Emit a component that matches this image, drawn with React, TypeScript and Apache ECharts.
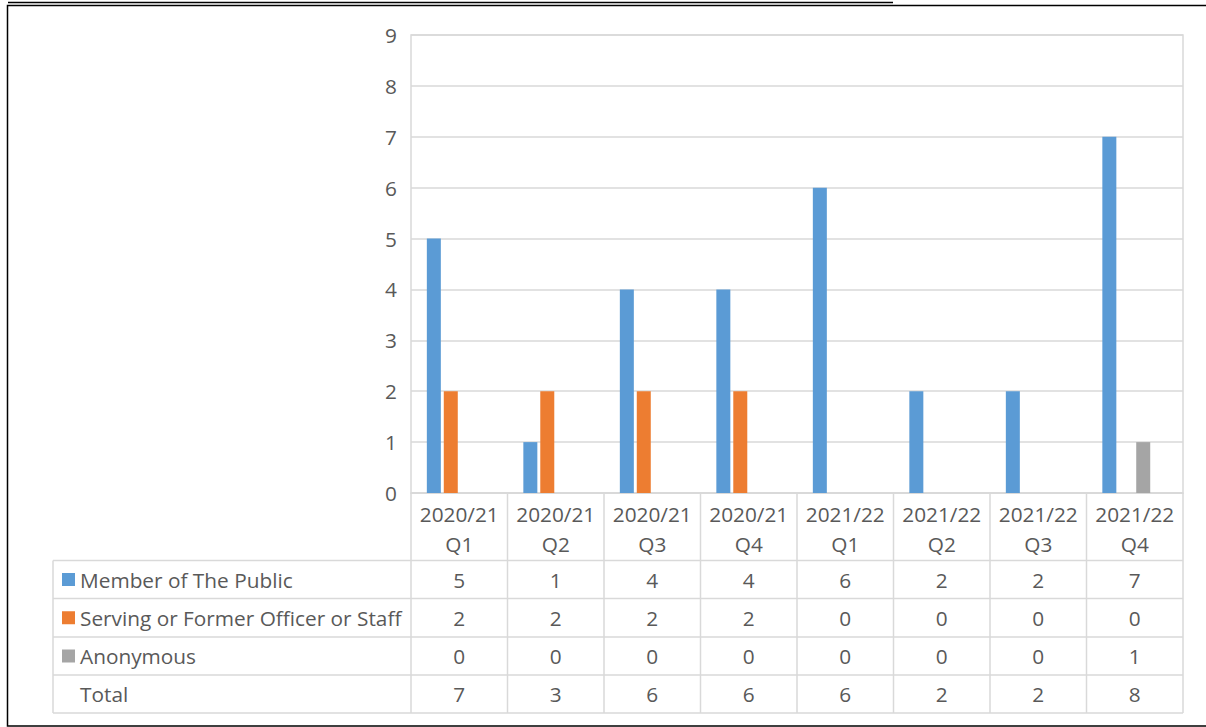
import { useEffect, useRef } from "react";
import * as echarts from "echarts";

// Quarterly complaint cases by type of complainant
const categories = [
  "2020/21\nQ1",
  "2020/21\nQ2",
  "2020/21\nQ3",
  "2020/21\nQ4",
  "2021/22\nQ1",
  "2021/22\nQ2",
  "2021/22\nQ3",
  "2021/22\nQ4",
];
const memberOfPublic = [5, 1, 4, 4, 6, 2, 2, 7];
const servingOfficerStaff = [2, 2, 2, 2, 0, 0, 0, 0];
const anonymous = [0, 0, 0, 0, 0, 0, 0, 1];
const yTicks = [0, 1, 2, 3, 4, 5, 6, 7, 8, 9];

const seriesNames = [
  "Member of The Public",
  "Serving or Former Officer or Staff",
  "Anonymous",
];
const seriesColors = ["#5b9bd5", "#ed7d31", "#a5a5a5"];

// Layout
const W = 1206;
const H = 727;
const PLOT_L = 411;
const PLOT_R = 1183;
const PLOT_T = 35;
const PLOT_B = 493;
const TABLE_L = 53;
const ROW_Y = [560.5, 598.5, 637, 675, 713];
const FONT = "'Open Sans', Calibri, 'Noto Sans', sans-serif";
const TEXT = "#595959";
const LINE = "#d9d9d9";
const FS = 20.8;

export default function App() {
  const ref = useRef<HTMLDivElement>(null);

  useEffect(() => {
    const chart = echarts.init(ref.current!, null, { renderer: "svg" });
    const totals = memberOfPublic.map(
      (v, i) => v + servingOfficerStaff[i] + anonymous[i]
    );
    const seriesData = [memberOfPublic, servingOfficerStaff, anonymous];
    const colW = (PLOT_R - PLOT_L) / categories.length;

    const graphics: any[] = [];
    const hLine = (x1: number, x2: number, y: number, color = LINE, w = 1.5) =>
      graphics.push({
        type: "line",
        silent: true,
        shape: { x1, y1: y, x2, y2: y },
        style: { stroke: color, lineWidth: w },
      });
    const vLine = (x: number, y1: number, y2: number) =>
      graphics.push({
        type: "line",
        silent: true,
        shape: { x1: x, y1, x2: x, y2 },
        style: { stroke: LINE, lineWidth: 1.5 },
      });

    // data table grid
    ROW_Y.forEach((y) => hLine(TABLE_L, PLOT_R, y));
    vLine(TABLE_L, ROW_Y[0], ROW_Y[ROW_Y.length - 1]);
    for (let i = 0; i <= categories.length; i++) {
      vLine(PLOT_L + i * colW, PLOT_B, ROW_Y[ROW_Y.length - 1]);
    }

    // data table rows
    const rows = [...seriesData, totals];
    const rowNames = [...seriesNames, "Total"];
    rows.forEach((vals, r) => {
      const cy = (ROW_Y[r] + ROW_Y[r + 1]) / 2;
      if (r < seriesColors.length) {
        graphics.push({
          type: "rect",
          silent: true,
          shape: { x: 62, y: cy - 6.5, width: 13, height: 13 },
          style: { fill: seriesColors[r] },
        });
      }
      graphics.push({
        type: "text",
        silent: true,
        x: 80,
        y: cy,
        style: {
          text: rowNames[r],
          fill: TEXT,
          font: `${FS}px ${FONT}`,
          textAlign: "left",
          textVerticalAlign: "middle",
        },
      });
      vals.forEach((v, i) => {
        graphics.push({
          type: "text",
          silent: true,
          x: PLOT_L + (i + 0.5) * colW,
          y: cy,
          style: {
            text: String(v),
            fill: TEXT,
            font: `${FS}px ${FONT}`,
            textAlign: "center",
            textVerticalAlign: "middle",
          },
        });
      });
    });

    // page frame and heading underline
    graphics.push({
      type: "line",
      silent: true,
      shape: { x1: 8, y1: 2.5, x2: 893, y2: 2.5 },
      style: { stroke: "#000", lineWidth: 1.6 },
    });
    graphics.push({
      type: "rect",
      silent: true,
      shape: { x: 7.5, y: 5.5, width: W + 20, height: 720.5 },
      style: { fill: "none", stroke: "#000", lineWidth: 1.5 },
    });

    const series: any[] = seriesData.map((data, k) => ({
      name: seriesNames[k],
      type: "bar",
      data,
      barWidth: 14,
      barGap: "21%",
      itemStyle: { color: seriesColors[k] },
    }));
    // Total occupies its own (unfilled) slot in each category
    series.push({
      name: "Total",
      type: "bar",
      data: totals,
      barWidth: 14,
      barGap: "21%",
      itemStyle: { color: "rgba(0,0,0,0)" },
    });

    chart.setOption({
      animation: false,
      backgroundColor: "#fff",
      textStyle: { fontFamily: FONT },
      grid: {
        left: PLOT_L,
        right: W - PLOT_R,
        top: PLOT_T,
        bottom: H - PLOT_B,
        show: true,
        borderColor: LINE,
        borderWidth: 1.5,
      },
      xAxis: {
        type: "category",
        data: categories,
        axisLine: { show: true, lineStyle: { color: LINE, width: 1.5 } },
        axisTick: { show: false },
        axisLabel: {
          color: TEXT,
          fontSize: FS,
          fontFamily: FONT,
          lineHeight: 30,
          margin: 6,
          interval: 0,
        },
      },
      yAxis: {
        type: "value",
        min: yTicks[0],
        max: yTicks[yTicks.length - 1],
        interval: 1,
        axisLine: { show: false },
        axisTick: { show: false },
        splitLine: { lineStyle: { color: LINE, width: 1.5 } },
        axisLabel: {
          color: TEXT,
          fontSize: FS,
          fontFamily: FONT,
          margin: 14,
        },
      },
      series,
      graphic: graphics,
    });

    return () => chart.dispose();
  }, []);

  return (
    <div
      ref={ref}
      style={{
        position: "fixed",
        left: 0,
        top: 0,
        width: W,
        height: H,
        background: "#fff",
      }}
    />
  );
}
